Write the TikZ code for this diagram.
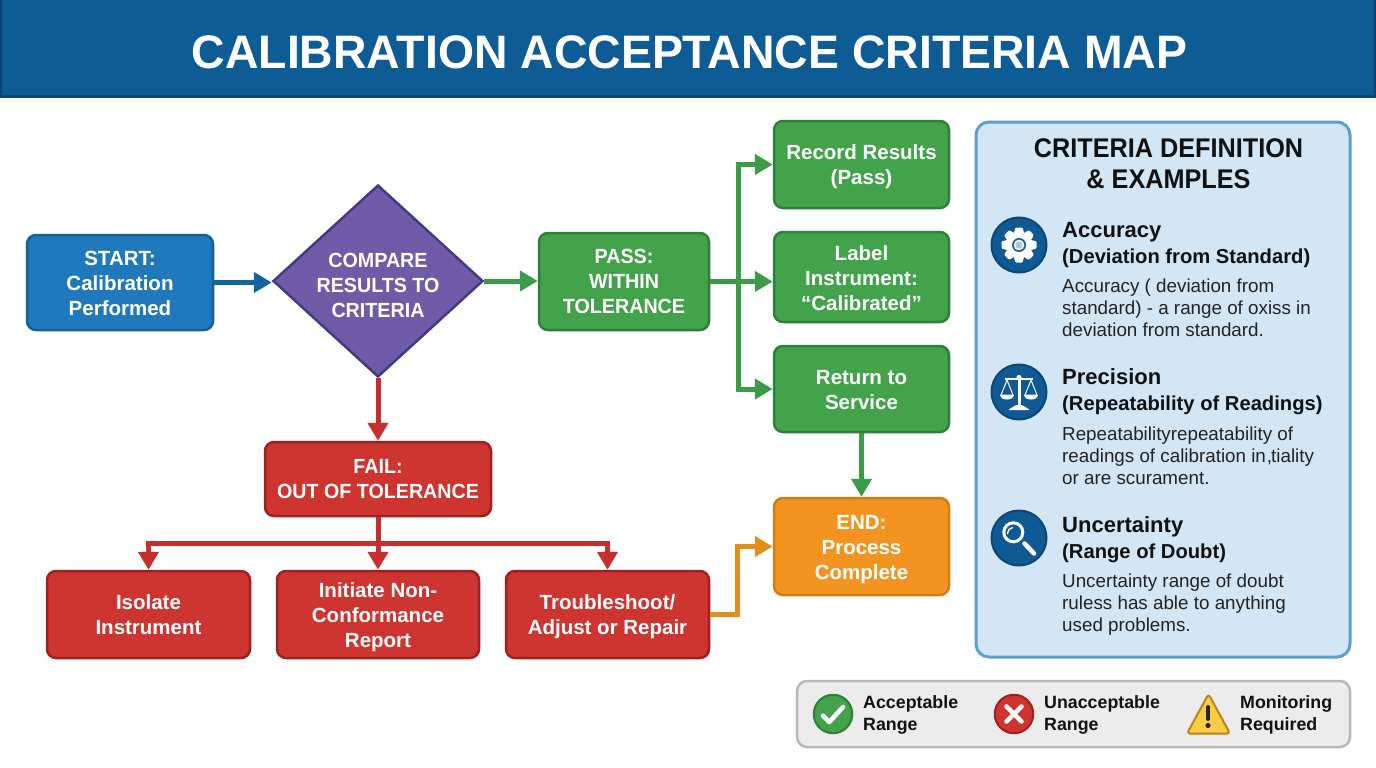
\documentclass[tikz,border=0pt]{standalone}
\usepackage{fontspec}
\setmainfont{Liberation Sans}
\newfontfamily\capsfont[FakeStretch=0.96]{Liberation Sans}
\newfontfamily\headfont[FakeStretch=0.935]{Liberation Sans}
\newfontfamily\titlefont[FakeStretch=0.987]{Liberation Sans}
\usetikzlibrary{arrows.meta,shapes.geometric,calc}
\definecolor{hdr}{HTML}{0D5C96}
\definecolor{hdrb}{HTML}{0A4675}
\definecolor{cblue}{HTML}{2079BC}
\definecolor{cblueb}{HTML}{14609A}
\definecolor{cgreen}{HTML}{43A34B}
\definecolor{cgreenb}{HTML}{2E7F3A}
\definecolor{cred}{HTML}{CE3430}
\definecolor{credb}{HTML}{A02020}
\definecolor{cpurple}{HTML}{6F5BA7}
\definecolor{cpurpleb}{HTML}{453A80}
\definecolor{corange}{HTML}{F39420}
\definecolor{corangeb}{HTML}{CF7D16}
\definecolor{ablue}{HTML}{12659F}
\definecolor{agreen}{HTML}{3A9B48}
\definecolor{ared}{HTML}{C62F2E}
\definecolor{aorange}{HTML}{E08E1E}
\definecolor{panel}{HTML}{D3E6F5}
\definecolor{panelb}{HTML}{5BA0CE}
\definecolor{legbg}{HTML}{ECECEC}
\definecolor{legb}{HTML}{B8B8B8}
\definecolor{icon}{HTML}{0F5A94}
\definecolor{iconb}{HTML}{0B4675}
\definecolor{ink}{HTML}{111111}
\definecolor{inkb}{HTML}{222222}
\definecolor{warnf}{HTML}{F8CE46}
\definecolor{warnb}{HTML}{B9860F}
\newcommand{\dn}[1]{\rule{0pt}{\dimexpr 15pt+#1pt+#1pt\relax}}
\tikzset{
  flow/.style={draw=#1b,fill=#1,line width=2.5pt,rounded corners=9pt,inner sep=0pt,text=white,align=center,
    font=\fontsize{20.5}{25}\selectfont\bfseries},
  conn/.style={draw=#1,line width=5pt,-{Triangle[width=20pt,length=18pt]}},
  heading/.style={anchor=west,inner sep=0pt,align=left,text=ink,font=\fontsize{20.2}{26}\selectfont\bfseries},
  body/.style={anchor=west,inner sep=0pt,align=left,text=inkb,font=\fontsize{18.8}{22}\selectfont},
  legtext/.style={anchor=west,inner sep=0pt,align=left,text=ink,font=\fontsize{17.8}{22}\selectfont\bfseries},
  iconc/.style={circle,fill=icon,draw=iconb,line width=2pt,minimum size=55pt,inner sep=0pt},
}
\begin{document}
\begin{tikzpicture}[x=1pt,y=-1pt]
\useasboundingbox (0,0) rectangle (1376,768);
% header
\node[name=header,anchor=north west,fill=hdr,draw=none,minimum width=1376pt,minimum height=96pt,inner sep=0pt] at (0,0) {};
\draw[hdrb,line width=3pt] (0,96.5) -- (1376,96.5);
\draw[hdrb,line width=2pt] (1,0) -- (1,96);
\draw[hdrb,line width=2pt] (1375,0) -- (1375,96);
\node[name=title,text=white,inner sep=0pt,font=\fontsize{47}{50}\selectfont\bfseries\titlefont] at (689.5,52) {CALIBRATION ACCEPTANCE CRITERIA MAP};
% flow nodes
\node[flow=cblue,minimum width=186pt,minimum height=95pt] (start) at (120,282.5) {\dn{1}START:\\Calibration\\Performed};
\node[name=compare,diamond,aspect=1.09,draw=cpurpleb,fill=cpurple,line width=2.5pt,minimum width=210pt,minimum height=192pt,inner sep=0pt,text=white,align=center,font=\fontsize{20.5}{25}\selectfont\bfseries\capsfont] at (378,281) {\dn{4}COMPARE\\RESULTS TO\\CRITERIA};
\node[flow=cgreen,minimum width=170pt,minimum height=97pt] (pass) at (624,281.5) {{\capsfont PASS:}\\{\capsfont WITHIN}\\{\capsfont TOLERANCE}};
\node[flow=cgreen,minimum width=175pt,minimum height=87pt] (record) at (861.5,164.5) {\dn{2}Record Results\\(Pass)};
\node[flow=cgreen,minimum width=175pt,minimum height=90pt] (label) at (861.5,277) {\dn{1}Label\\Instrument:\\“Calibrated”};
\node[flow=cgreen,minimum width=175pt,minimum height=86pt] (return) at (861.5,389) {\dn{1}Return to\\Service};
\node[flow=corange,minimum width=175pt,minimum height=97pt] (finish) at (861.5,546.5) {\dn{3}END:\\Process\\Complete};
\node[flow=cred,minimum width=226pt,minimum height=74pt] (fail) at (378,479) {{\capsfont FAIL:}\\{\capsfont OUT OF TOLERANCE}};
\node[flow=cred,minimum width=203pt,minimum height=87pt] (isolate) at (148.5,614.5) {Isolate\\Instrument};
\node[flow=cred,minimum width=202pt,minimum height=87pt] (report) at (378,614.5) {\dn{3}Initiate Non-\\Conformance\\Report};
\node[flow=cred,minimum width=203pt,minimum height=87pt] (repair) at (607.5,614.5) {\dn{2}Troubleshoot/\\Adjust or Repair};
% connectors
\draw[conn=ablue] (start.east) -- (start.east -| compare.west);
\draw[conn=agreen] (compare.east) -- (compare.east -| pass.west);
\draw[conn=ared] (compare.south) -- (fail.north);
\draw[conn=agreen] (pass.east) -- (pass.east -| label.west);
\coordinate (gbus) at (738,281);
\draw[conn=agreen] (gbus) |- (record.west);
\draw[conn=agreen] (gbus) |- (return.west);
\draw[conn=agreen] (return.south) -- (finish.north);
\coordinate (rbus) at (378,543);
\draw[conn=ared] (fail.south) -- (report.north);
\draw[conn=ared] (rbus) -| (isolate.north);
\draw[conn=ared] (rbus) -| (repair.north);
\coordinate (obend) at (737,614.5);
\draw[conn=aorange] (repair.east) -- (obend) |- (finish.west);
% panel
\node[name=panelbox,draw=panelb,fill=panel,line width=3pt,rounded corners=13pt,minimum width=374pt,minimum height=535pt,inner sep=0pt] at (1163,389.5) {};
\node[name=paneltitle,inner sep=0pt,align=center,text=ink,font=\fontsize{27}{31}\selectfont\bfseries\headfont] at (1168.5,164) {CRITERIA DEFINITION\\\& EXAMPLES};
% accuracy
\node[iconc] (ic1) at (1019,245) {};
\begin{scope}[shift={(ic1.center)}]
  \foreach \a in {0,45,...,315}
    \fill[white,rotate=\a,rounded corners=1pt] (-5.5,-10) -- (-3.6,-17.5) -- (3.6,-17.5) -- (5.5,-10) -- cycle;
  \fill[white] (0,0) circle[radius=12.5pt];
  \fill[icon] (0,0) circle[radius=7pt];
  \fill[white] (0,0) circle[radius=5.4pt];
  \fill[icon!35!white] (0,0) circle[radius=3.6pt];
\end{scope}
\node[heading] (h1) at (1062,245) {\fontsize{22}{26}\selectfont Accuracy\\(Deviation from Standard)};
\node[body] (b1) at (1062,308) {Accuracy ( deviation from\\standard) - a range of oxiss in\\deviation from standard.};
% precision
\node[iconc] (ic2) at (1019,392) {};
\begin{scope}[shift={(ic2.center)}]
  \fill[white] (-1.5,-15) rectangle (1.5,14);
  \fill[white] (0,-14.5) circle[radius=2.6pt];
  \fill[white,rounded corners=1pt] (-11,18) -- (-3,13) -- (3,13) -- (11,18) -- cycle;
  \draw[white,line width=1.7pt] (-14,-13) -- (14,-13);
  \foreach \s in {-1,1} {
    \draw[white,line width=1pt,line join=round] (\s*12,-12) -- (\s*18,3) -- (\s*6,3) -- cycle;
    \fill[white] (\s*19,3) -- (\s*5,3) .. controls (\s*5.5,9) and (\s*18.5,9) .. (\s*19,3) -- cycle;
  }
\end{scope}
\node[heading] (h2) at (1062,391.5) {\fontsize{22}{26}\selectfont Precision\\(Repeatability of Readings)};
\node[body] (b2) at (1062,456) {Repeatabilityrepeatability of\\readings of calibration in\kern1pt,\kern-1pt tiality\\or are scurament.};
% uncertainty
\node[iconc] (ic3) at (1019,538) {};
\begin{scope}[shift={(ic3.center)}]
  \draw[white,line width=3pt] (-5.7,-5.7) circle[radius=9.5pt];
  \draw[white,line width=1.3pt,line cap=round] (-11.5,-4.5) arc[start angle=180,end angle=100,radius=6pt];
  \draw[white,line width=4.5pt,line cap=round] (5.5,5.5) -- (15,15.5);
\end{scope}
\node[heading] (h3) at (1062,539.5) {\fontsize{22}{26}\selectfont Uncertainty\\(Range of Doubt)};
\node[body] (b3) at (1062,605) {Uncertainty range of doubt\\ruless has able to anything\\used problems.};
% legend
\node[name=legendbox,draw=legb,fill=legbg,line width=2.5pt,rounded corners=10pt,minimum width=553pt,minimum height=66pt,inner sep=0pt] at (1073.5,714) {};
\node[name=okc,circle,draw=cgreenb,fill=cgreen,line width=2pt,minimum size=38.5pt,inner sep=0pt] at (833,714) {};
\draw[white,line width=4.5pt,line cap=round,line join=round] ($(okc.center)+(-10,1.7)$) -- ($(okc.center)+(-3.7,8)$) -- ($(okc.center)+(10,-7)$);
\node[legtext] (t1) at (863,714.5) {Acceptable\\Range};
\node[name=badc,circle,draw=credb,fill=cred,line width=2pt,minimum size=38.5pt,inner sep=0pt] at (1014,714) {};
\draw[white,line width=4.5pt,line cap=round] ($(badc.center)+(-7.5,-7.5)$) -- ($(badc.center)+(7.5,7.5)$);
\draw[white,line width=4.5pt,line cap=round] ($(badc.center)+(-7.5,7.5)$) -- ($(badc.center)+(7.5,-7.5)$);
\node[legtext] (t2) at (1044,714.5) {Unacceptable\\Range};
\coordinate (warn) at (1208,714);
\draw[fill=warnf,draw=warnb,line width=2pt,line join=round,rounded corners=3pt] ($(warn)+(0.5,-20)$) -- ($(warn)+(22,19.5)$) -- ($(warn)+(-21,19.5)$) -- cycle;
\draw[black!85,line width=4pt,line cap=round] ($(warn)+(0,-7)$) -- ($(warn)+(0,5)$);
\fill[black!85] ($(warn)+(0,11.5)$) circle[radius=2.6pt];
\node[legtext] (t3) at (1240,714.5) {Monitoring\\Required};
\end{tikzpicture}
\end{document}
